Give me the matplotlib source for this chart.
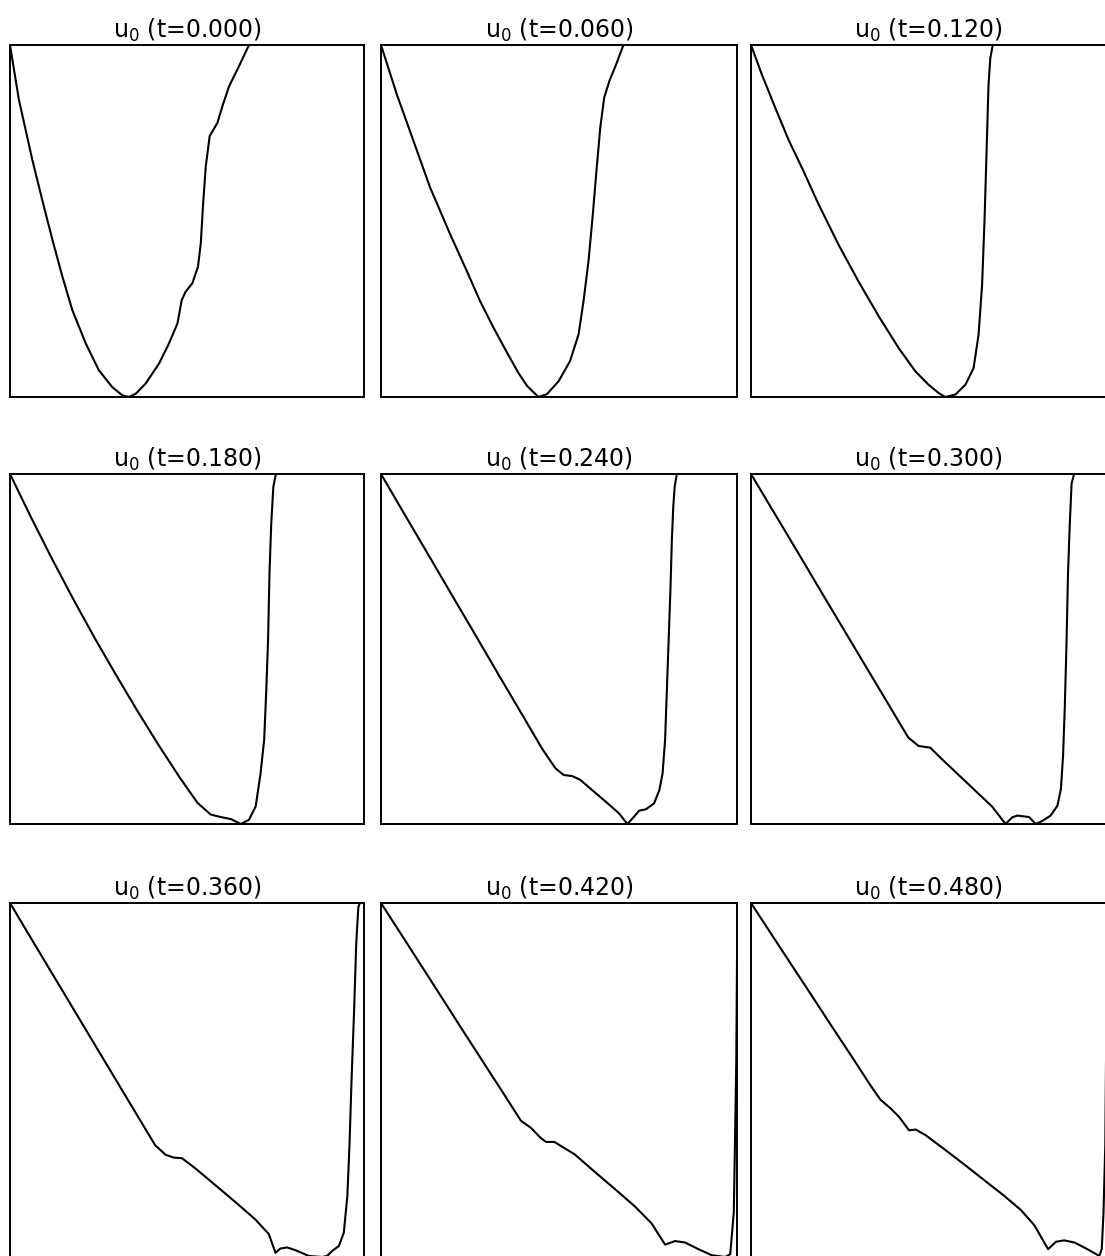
import matplotlib
matplotlib.use("Agg")
import matplotlib.pyplot as plt

# snapshot times shown in the panel titles
times = [0.000, 0.060, 0.120, 0.180, 0.240, 0.300, 0.360, 0.420, 0.480]

# u0 profiles (x and u normalised to the box, 0..1)
x_t000 = [0.0, 0.025, 0.063, 0.091, 0.120, 0.148, 0.176, 0.214, 0.251, 0.289, 0.317, 0.336,
          0.355, 0.383, 0.421, 0.449, 0.473, 0.485, 0.496, 0.515, 0.531, 0.539, 0.545, 0.553,
          0.564, 0.586, 0.600, 0.619, 0.647, 0.675]
u_t000 = [1.0, 0.845, 0.674, 0.560, 0.446, 0.342, 0.247, 0.152, 0.076, 0.028, 0.005, 0.0,
          0.009, 0.038, 0.095, 0.152, 0.209, 0.275, 0.299, 0.323, 0.370, 0.437, 0.541, 0.655,
          0.741, 0.779, 0.826, 0.883, 0.940, 1.0]

x_t060 = [0.0, 0.044, 0.091, 0.138, 0.194, 0.241, 0.278, 0.316, 0.353, 0.385, 0.410, 0.442,
          0.466, 0.499, 0.531, 0.555, 0.569, 0.583, 0.595, 0.606, 0.616, 0.627, 0.642, 0.661, 0.681]
u_t060 = [1.0, 0.861, 0.728, 0.595, 0.463, 0.358, 0.273, 0.197, 0.128, 0.070, 0.032, 0.0,
          0.008, 0.045, 0.102, 0.178, 0.273, 0.387, 0.519, 0.652, 0.766, 0.851, 0.899, 0.946, 1.0]

x_t120 = [0.0, 0.031, 0.069, 0.106, 0.144, 0.191, 0.247, 0.303, 0.360, 0.416, 0.463, 0.500,
          0.529, 0.547, 0.576, 0.604, 0.627, 0.641, 0.651, 0.658, 0.665, 0.669, 0.674, 0.681]
u_t120 = [1.0, 0.915, 0.820, 0.730, 0.650, 0.546, 0.432, 0.328, 0.229, 0.139, 0.073, 0.035,
          0.011, 0.0, 0.007, 0.035, 0.082, 0.177, 0.319, 0.508, 0.745, 0.886, 0.962, 1.0]

x_t180 = [0.0, 0.060, 0.120, 0.180, 0.240, 0.300, 0.360, 0.420, 0.480, 0.530, 0.567, 0.595,
          0.624, 0.652, 0.675, 0.694, 0.708, 0.718, 0.724, 0.729, 0.733, 0.738, 0.744, 0.751]
u_t180 = [1.0, 0.875, 0.755, 0.640, 0.530, 0.425, 0.323, 0.225, 0.132, 0.060, 0.027, 0.020,
          0.014, 0.0, 0.012, 0.050, 0.146, 0.241, 0.383, 0.526, 0.716, 0.859, 0.964, 1.0]

x_t240 = [0.0, 0.066, 0.132, 0.198, 0.264, 0.330, 0.395, 0.452, 0.490, 0.513, 0.537, 0.560,
          0.593, 0.631, 0.669, 0.692, 0.711, 0.725, 0.744, 0.767, 0.782, 0.791, 0.798, 0.803,
          0.808, 0.813, 0.817, 0.821, 0.825, 0.831]
u_t240 = [1.0, 0.885, 0.771, 0.656, 0.542, 0.427, 0.315, 0.216, 0.159, 0.140, 0.137, 0.126,
          0.097, 0.064, 0.030, 0.0, 0.021, 0.038, 0.042, 0.059, 0.097, 0.145, 0.240, 0.383,
          0.526, 0.669, 0.811, 0.907, 0.964, 1.0]

x_t300 = [0.0, 0.066, 0.132, 0.198, 0.264, 0.330, 0.396, 0.443, 0.472, 0.505, 0.538, 0.585,
          0.632, 0.679, 0.717, 0.736, 0.750, 0.783, 0.802, 0.821, 0.844, 0.863, 0.873, 0.879,
          0.884, 0.889, 0.893, 0.898, 0.903, 0.910]
u_t300 = [1.0, 0.888, 0.776, 0.663, 0.551, 0.439, 0.327, 0.247, 0.223, 0.218, 0.185, 0.140,
          0.095, 0.050, 0.0, 0.019, 0.024, 0.020, 0.0, 0.009, 0.024, 0.052, 0.100, 0.194,
          0.336, 0.526, 0.716, 0.858, 0.972, 1.0]

x_t360 = [0.0, 0.071, 0.146, 0.222, 0.288, 0.354, 0.410, 0.439, 0.462, 0.486, 0.524, 0.580,
          0.637, 0.693, 0.731, 0.750, 0.764, 0.783, 0.807, 0.844, 0.882, 0.896, 0.910, 0.929,
          0.943, 0.953, 0.959, 0.965, 0.972, 0.978, 0.984, 0.988]
u_t360 = [1.0, 0.881, 0.756, 0.629, 0.519, 0.409, 0.316, 0.289, 0.281, 0.279, 0.250, 0.203,
          0.155, 0.106, 0.065, 0.012, 0.024, 0.027, 0.019, 0.003, 0.0, 0.003, 0.017, 0.031,
          0.069, 0.173, 0.316, 0.505, 0.695, 0.884, 0.988, 1.0]

x_t420 = [0.0, 0.073, 0.149, 0.224, 0.290, 0.346, 0.393, 0.421, 0.450, 0.464, 0.487, 0.544,
          0.600, 0.657, 0.713, 0.760, 0.798, 0.826, 0.854, 0.892, 0.929, 0.967, 0.981, 0.991,
          0.995, 0.998, 1.0]
u_t420 = [1.0, 0.886, 0.767, 0.649, 0.546, 0.459, 0.385, 0.365, 0.335, 0.325, 0.325, 0.290,
          0.241, 0.192, 0.143, 0.095, 0.035, 0.045, 0.041, 0.022, 0.005, 0.0, 0.008, 0.126,
          0.363, 0.553, 0.84]

x_t480 = [0.0, 0.073, 0.149, 0.224, 0.299, 0.337, 0.365, 0.393, 0.417, 0.445, 0.464, 0.492,
          0.544, 0.600, 0.657, 0.713, 0.760, 0.798, 0.821, 0.837, 0.859, 0.882, 0.911, 0.948,
          0.981, 0.988, 0.993, 0.998, 1.0]
u_t480 = [1.0, 0.888, 0.772, 0.657, 0.543, 0.484, 0.444, 0.420, 0.396, 0.358, 0.360, 0.344,
          0.305, 0.262, 0.217, 0.173, 0.133, 0.090, 0.050, 0.022, 0.043, 0.047, 0.041, 0.022,
          0.003, 0.022, 0.126, 0.316, 0.55]

profiles = [(x_t000, u_t000), (x_t060, u_t060), (x_t120, u_t120),
            (x_t180, u_t180), (x_t240, u_t240), (x_t300, u_t300),
            (x_t360, u_t360), (x_t420, u_t420), (x_t480, u_t480)]

W, H = 1105, 1256
fig = plt.figure(figsize=(W / 100, H / 100), dpi=100)

# panel boxes in pixels: left, width / top, bottom
col_left = [10, 381, 751]
col_w = [354, 356, 355]
row_top = [45, 474, 903]
row_bot = [397, 824, 1257]

for i, (t, (xs, us)) in enumerate(zip(times, profiles)):
    r, c = divmod(i, 3)
    ax = fig.add_axes([col_left[c] / W, 1 - row_bot[r] / H,
                       col_w[c] / W, (row_bot[r] - row_top[r]) / H])
    ax.plot(xs, us, color="black", linewidth=1.5, solid_joinstyle="round")
    ax.set_xlim(0, 1)
    ax.set_ylim(0, 1)
    ax.set_xticks([])
    ax.set_yticks([])
    for sp in ax.spines.values():
        sp.set_linewidth(1.4)
        sp.set_color("black")
    ax.set_title(f"u$_0$ (t={t:.3f})", fontsize=17, pad=5)

fig.savefig("out.png", dpi=100)
